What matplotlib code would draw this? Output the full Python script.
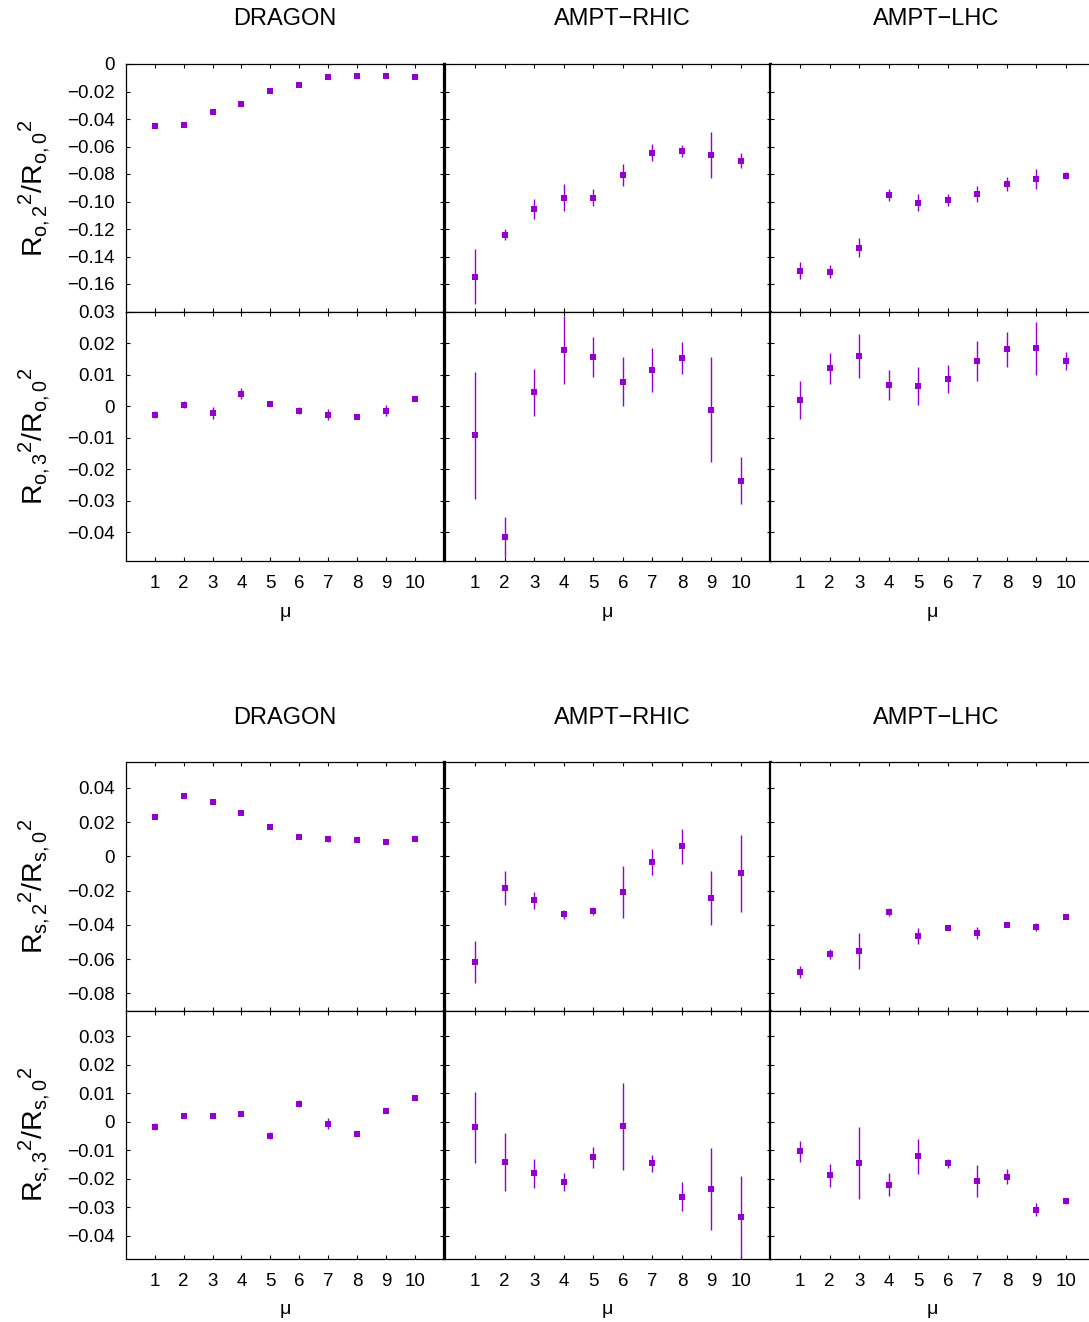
import matplotlib
matplotlib.use('Agg')
import matplotlib.pyplot as plt
import numpy as np
from matplotlib.ticker import FuncFormatter, FixedLocator

plt.rcParams['font.family'] = ['Liberation Sans', 'DejaVu Sans']
plt.rcParams['mathtext.fontset'] = 'custom'
plt.rcParams['mathtext.rm'] = 'Liberation Sans'
plt.rcParams['mathtext.it'] = 'Liberation Sans:italic'
plt.rcParams['axes.unicode_minus'] = True

# ---------------- data ----------------
mu = [1, 2, 3, 4, 5, 6, 7, 8, 9, 10]
models = ['DRAGON', 'AMPT\u2212RHIC', 'AMPT\u2212LHC']

ro2_dragon = [-0.0448, -0.0441, -0.0349, -0.0288, -0.0194, -0.0150, -0.0092, -0.0085, -0.0085, -0.0092]
ro2_dragon_err = [0.0005, 0.0005, 0.0010, 0.0005, 0.0004, 0.0004, 0.0010, 0.0004, 0.0010, 0.0005]
ro2_rhic = [-0.1547, -0.1242, -0.1053, -0.0971, -0.0971, -0.0806, -0.0646, -0.0632, -0.0661, -0.0704]
ro2_rhic_err = [0.0200, 0.0041, 0.0074, 0.0099, 0.0060, 0.0078, 0.0062, 0.0043, 0.0168, 0.0055]
ro2_lhc = [-0.1503, -0.1510, -0.1336, -0.0951, -0.1009, -0.0988, -0.0944, -0.0871, -0.0835, -0.0813]
ro2_lhc_err = [0.0060, 0.0048, 0.0068, 0.0045, 0.0060, 0.0046, 0.0060, 0.0050, 0.0074, 0.0025]

ro3_dragon = [-0.0027, 0.0005, -0.0022, 0.0040, 0.0008, -0.0014, -0.0027, -0.0033, -0.0014, 0.0023]
ro3_dragon_err = [0.0012, 0.0010, 0.0018, 0.0016, 0.0007, 0.0010, 0.0018, 0.0007, 0.0017, 0.0006]
ro3_rhic = [-0.0093, -0.0415, 0.0044, 0.0177, 0.0156, 0.0078, 0.0115, 0.0152, -0.0011, -0.0236]
ro3_rhic_err = [0.0200, 0.0063, 0.0074, 0.0108, 0.0064, 0.0079, 0.0069, 0.0050, 0.0166, 0.0074]
ro3_lhc = [0.0019, 0.0120, 0.0159, 0.0067, 0.0063, 0.0086, 0.0143, 0.0180, 0.0183, 0.0143]
ro3_lhc_err = [0.0061, 0.0050, 0.0070, 0.0046, 0.0060, 0.0045, 0.0062, 0.0056, 0.0083, 0.0029]

rs2_dragon = [0.0230, 0.0352, 0.0317, 0.0255, 0.0171, 0.0115, 0.0103, 0.0095, 0.0086, 0.0103]
rs2_dragon_err = [0.0008, 0.0004, 0.0004, 0.0005, 0.0008, 0.0005, 0.0017, 0.0004, 0.0004, 0.0004]
rs2_rhic = [-0.0617, -0.0185, -0.0255, -0.0337, -0.0319, -0.0208, -0.0033, 0.0060, -0.0243, -0.0097]
rs2_rhic_err = [0.0125, 0.0098, 0.0050, 0.0026, 0.0026, 0.0150, 0.0076, 0.0103, 0.0159, 0.0225]
rs2_lhc = [-0.0675, -0.0570, -0.0553, -0.0325, -0.0465, -0.0416, -0.0447, -0.0399, -0.0412, -0.0354]
rs2_lhc_err = [0.0034, 0.0030, 0.0105, 0.0023, 0.0049, 0.0008, 0.0034, 0.0010, 0.0021, 0.0005]

rs3_dragon = [-0.0018, 0.0021, 0.0021, 0.0028, -0.0049, 0.0063, -0.0007, -0.0042, 0.0039, 0.0084]
rs3_dragon_err = [0.0012, 0.0008, 0.0007, 0.0008, 0.0012, 0.0013, 0.0020, 0.0008, 0.0004, 0.0004]
rs3_rhic = [-0.0020, -0.0140, -0.0181, -0.0210, -0.0125, -0.0016, -0.0146, -0.0262, -0.0235, -0.0333]
rs3_rhic_err = [0.0126, 0.0102, 0.0050, 0.0032, 0.0037, 0.0152, 0.0029, 0.0051, 0.0144, 0.0144]
rs3_lhc = [-0.0104, -0.0188, -0.0143, -0.0221, -0.0121, -0.0146, -0.0207, -0.0193, -0.0308, -0.0279]
rs3_lhc_err = [0.0036, 0.0039, 0.0126, 0.0040, 0.0061, 0.0015, 0.0056, 0.0026, 0.0022, 0.0009]

ro2_ticks = [-0.16, -0.14, -0.12, -0.10, -0.08, -0.06, -0.04, -0.02, 0.0]
ro3_ticks = [-0.04, -0.03, -0.02, -0.01, 0.0, 0.01, 0.02, 0.03]
rs2_ticks = [-0.08, -0.06, -0.04, -0.02, 0.0, 0.02, 0.04]
rs3_ticks = [-0.04, -0.03, -0.02, -0.01, 0.0, 0.01, 0.02, 0.03]

ylabels = [r'$\mathrm{R_{o,2}{}^{2}/R_{o,0}{}^{2}}$',
           r'$\mathrm{R_{o,3}{}^{2}/R_{o,0}{}^{2}}$',
           r'$\mathrm{R_{s,2}{}^{2}/R_{s,0}{}^{2}}$',
           r'$\mathrm{R_{s,3}{}^{2}/R_{s,0}{}^{2}}$']

rows_data = [
    ([ro2_dragon, ro2_rhic, ro2_lhc], [ro2_dragon_err, ro2_rhic_err, ro2_lhc_err], (-0.18, 0.0), ro2_ticks),
    ([ro3_dragon, ro3_rhic, ro3_lhc], [ro3_dragon_err, ro3_rhic_err, ro3_lhc_err], (-0.049, 0.03), ro3_ticks),
    ([rs2_dragon, rs2_rhic, rs2_lhc], [rs2_dragon_err, rs2_rhic_err, rs2_lhc_err], (-0.09, 0.055), rs2_ticks),
    ([rs3_dragon, rs3_rhic, rs3_lhc], [rs3_dragon_err, rs3_rhic_err, rs3_lhc_err], (-0.048, 0.039), rs3_ticks),
]

# ---------------- layout (pixels) ----------------
W, H = 1089, 1322
col_px = [(125.7, 444.0), (445.4, 770.6), (770.4, 1095.6)]
row_px = [(64.0, 311.5), (311.5, 560.7), (762.3, 1010.5), (1010.5, 1258.7)]
color = '#9400D3'

fig = plt.figure(figsize=(W / 100, H / 100), dpi=100)


def fmt(v, pos):
    if abs(v) < 1e-9:
        return '0'
    return ('%.2f' % v).replace('-', '\u2212')


for r, (vals, errs, ylim, yt) in enumerate(rows_data):
    y0, y1 = row_px[r]
    for c in range(3):
        x0, x1 = col_px[c]
        ax = fig.add_axes([x0 / W, 1 - y1 / H, (x1 - x0) / W, (y1 - y0) / H])
        ax.errorbar(mu, vals[c], yerr=errs[c], fmt='s', color=color, ms=3.9,
                    elinewidth=1.0, capsize=1.1, capthick=1.0, mec=color, mew=0)
        ax.set_xlim(0, 11)
        ax.set_ylim(*ylim)
        ax.xaxis.set_major_locator(FixedLocator(mu))
        ax.yaxis.set_major_locator(FixedLocator(yt))
        ax.yaxis.set_major_formatter(FuncFormatter(fmt))
        ax.tick_params(direction='in', top=True, right=True, length=3, width=0.8,
                       labelsize=13.5, colors='black')
        ax.tick_params(axis='y', pad=8)
        ax.tick_params(axis='x', pad=10)
        if c != 0:
            ax.tick_params(labelleft=False)
        if r in (0, 2):
            ax.tick_params(labelbottom=False)
        for s in ax.spines.values():
            s.set_linewidth(0.9)
            s.set_color('black')
        if c == 0:
            ax.spines['right'].set_linewidth(1.6)
        else:
            ax.spines['left'].set_linewidth(1.6)
            ax.spines['right'].set_linewidth(1.6)
    fig.text(34 / W, 1 - (y0 + y1) / 2 / H, ylabels[r], rotation=90,
             ha='center', va='center', fontsize=20.5)

# titles
title_x = [285, 622, 936]
for yt_px in (19, 718):
    for c in range(3):
        fig.text(title_x[c] / W, 1 - yt_px / H, models[c], ha='center', va='center', fontsize=17)

# mu labels
mu_x = [285, 607, 932]
for ym in (612, 1309):
    for c in range(3):
        fig.text(mu_x[c] / W, 1 - ym / H, '\u03bc', ha='center', va='center', fontsize=14)

fig.savefig('out.png', dpi=100)
